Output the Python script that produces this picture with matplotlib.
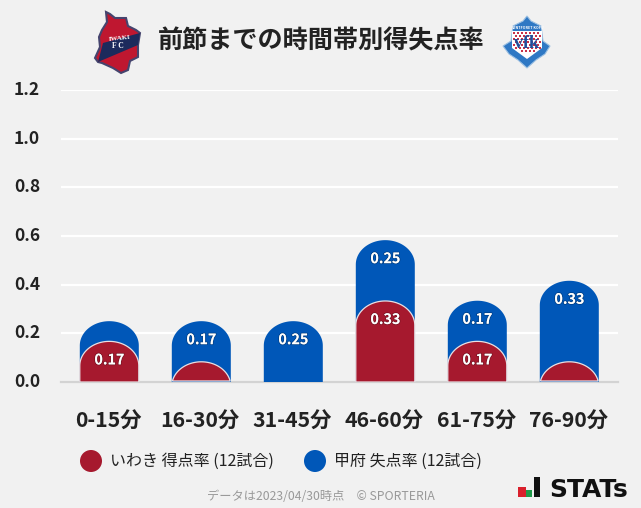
import numpy as np
import matplotlib
matplotlib.use('Agg')
import matplotlib.pyplot as plt
import matplotlib.patheffects as pe
from matplotlib.patches import Polygon, Circle, Rectangle
from matplotlib.transforms import ScaledTranslation

plt.rcParams['font.family'] = ['Noto Sans CJK JP', 'DejaVu Sans']

# data
periods = ['0-15分', '16-30分', '31-45分', '46-60分', '61-75分', '76-90分']
iwaki_scored = [0.167, 0.083, 0.0, 0.333, 0.167, 0.083]
kofu_conceded = [0.083, 0.167, 0.25, 0.25, 0.167, 0.333]
yticks = [0.0, 0.2, 0.4, 0.6, 0.8, 1.0, 1.2]

RED = '#a6192e'
BLUE = '#0057b8'
BG = '#f1f1f1'
W, H = 641, 508

fig = plt.figure(figsize=(W / 100, H / 100), dpi=100, facecolor=BG)
# 0.0 = 382px, 1.2 = 90px
ax = fig.add_axes([61 / W, 1 - 382 / H, 557 / W, 292 / H], facecolor=BG)
ax.set_xlim((61 - 109.3) / 92, (618 - 109.3) / 92)
ax.set_ylim(0, 1.2)


def dome(x, top, **kw):
    # top half ellipse bar, cut at the baseline
    bw = 59 / 92 / 2
    ry = 0.1
    t = np.linspace(0, np.pi, 60)
    xs = x + bw * np.cos(t)
    ys = top - ry + ry * np.sin(t)
    keep = ys >= 0
    pts = list(zip(xs[keep], ys[keep]))
    if top >= ry:
        pts = [(x + bw, 0)] + pts + [(x - bw, 0)]
    ax.add_patch(Polygon(pts, closed=True, **kw))


def bar_label(x, top, val):
    if val < 0.1:
        return
    # 19px below the top of the bar
    ax.annotate(f'{val:.2f}', (x, top), xytext=(0, -19 * 0.72), textcoords='offset points',
                ha='center', va='center', color='white', fontsize=10.3, fontweight='bold', zorder=6,
                path_effects=[pe.withStroke(linewidth=1.2, foreground='#00000040')])


for i in range(len(periods)):
    total = iwaki_scored[i] + kofu_conceded[i]
    if kofu_conceded[i] > 0:
        dome(i, total, facecolor=BLUE, edgecolor='none', zorder=3)
        bar_label(i, total, kofu_conceded[i])
    if iwaki_scored[i] > 0:
        dome(i, iwaki_scored[i], facecolor=RED, edgecolor='#e8e0e4', linewidth=0.9, zorder=4)
        bar_label(i, iwaki_scored[i], iwaki_scored[i])

ax.set_xticks(range(len(periods)))
ax.set_xticklabels(periods, fontsize=15.3, fontweight='bold', color='#222222')
ax.set_yticks(yticks)
ax.set_yticklabels([f'{v:.1f}' for v in yticks], fontsize=12.5, fontweight='bold', color='#222222')
ax.tick_params(axis='x', length=0, pad=20.5)
ax.tick_params(axis='y', length=0, pad=15)
# nudge the tick labels a little
for lb in ax.get_yticklabels():
    lb.set_transform(lb.get_transform() + ScaledTranslation(0, 1.5 / 72, fig.dpi_scale_trans))
for lb in ax.get_xticklabels():
    lb.set_transform(lb.get_transform() + ScaledTranslation(-1 / 100, 0, fig.dpi_scale_trans))
ax.grid(axis='y', color='white', linewidth=1.6, zorder=1)
ax.set_axisbelow(True)
for s in ['top', 'right', 'left']:
    ax.spines[s].set_visible(False)
ax.spines['bottom'].set_color('#d3d3d3')
ax.spines['bottom'].set_linewidth(1.6)
ax.spines['bottom'].set_zorder(2)

# overlay in pixel coords for title, logos, legend
ov = fig.add_axes([0, 0, 1, 1], facecolor='none')
ov.set_xlim(0, W)
ov.set_ylim(H, 0)
ov.axis('off')

ov.text(321, 41, '前節までの時間帯別得失点率', ha='center', va='center',
        fontsize=18.1, fontweight='bold', color='#222222')

# iwaki badge
shield = [(106, 12), (110, 14), (115, 18), (126, 18), (128, 26), (136, 30), (140, 33), (138, 45), (138, 57),
          (130, 61), (128, 70), (121, 73), (113, 68), (102, 63), (98, 62), (95, 58), (100, 47), (99, 37),
          (102, 30), (107, 22)]
ov.add_patch(Polygon(shield, closed=True, fc='#bf1730', ec='#45446e', lw=1.5))
ov.add_patch(Polygon([(103, 43), (140, 33), (138, 45), (98, 62)], closed=True, fc='#1c2a5c', ec='none'))
ov.text(120, 38, 'IWAKI', rotation=6, ha='center', va='center', fontsize=5, color='white',
        family='Liberation Serif', fontweight='bold')
ov.text(118, 46, 'F C', ha='center', va='center', fontsize=5.5, color='white',
        family='Liberation Serif', fontweight='bold')

# kofu badge
badge = [(527, 16), (531, 21), (541, 26), (543, 41), (550, 46), (545, 54), (536, 60), (527, 68),
         (518, 60), (509, 54), (503, 46), (511, 41), (513, 26), (523, 21)]
ov.add_patch(Polygon(badge, closed=True, fc='#2f78c4', ec='#9cc0e2', lw=0.8))
ov.add_patch(Polygon([(512, 31), (542, 31), (542, 48), (527, 59), (512, 48)], closed=True, fc='white', ec='none'))
for cy in range(32, 52, 3):
    for cx in range(513 + (cy % 2) * 2, 541, 4):
        if cy < 48 or 518 < cx < 534:
            ov.add_patch(Rectangle((cx, cy), 2, 1.6, fc='#c8324a', ec='none'))
ov.text(527, 28, 'VENTFORET KOFU', ha='center', va='center', fontsize=2.6, color='white', fontweight='bold')
ov.text(527, 43, 'vfk', ha='center', va='center', fontsize=13, color='#1f4f9c',
        family='Liberation Serif', fontweight='bold')

# legend
ov.add_patch(Circle((91, 461), 11, fc=RED, ec='none'))
ov.text(110.5, 461, 'いわき 得点率 (12試合)', va='center', fontsize=11.5, color='#222222')
ov.add_patch(Circle((315, 461), 11, fc=BLUE, ec='none'))
ov.text(334.5, 461, '甲府 失点率 (12試合)', va='center', fontsize=11.5, color='#222222')

ov.text(320.5, 497, 'データは2023/04/30時点　© SPORTERIA', ha='center', va='center',
        fontsize=8.8, color='#999999')

# STATs logo
ov.add_patch(Rectangle((518, 487), 8, 10, fc='#d9202c', ec='none'))
ov.add_patch(Rectangle((526, 490), 6, 7, fc='#1f9a4a', ec='none'))
ov.add_patch(Rectangle((534, 477), 6, 20, fc='#111111', ec='none'))
ov.text(549, 497, 'STATs', va='baseline', ha='left', fontsize=18, fontweight='bold', color='#111111',
        family='DejaVu Sans')

fig.savefig('out.png', dpi=100, facecolor=BG)
